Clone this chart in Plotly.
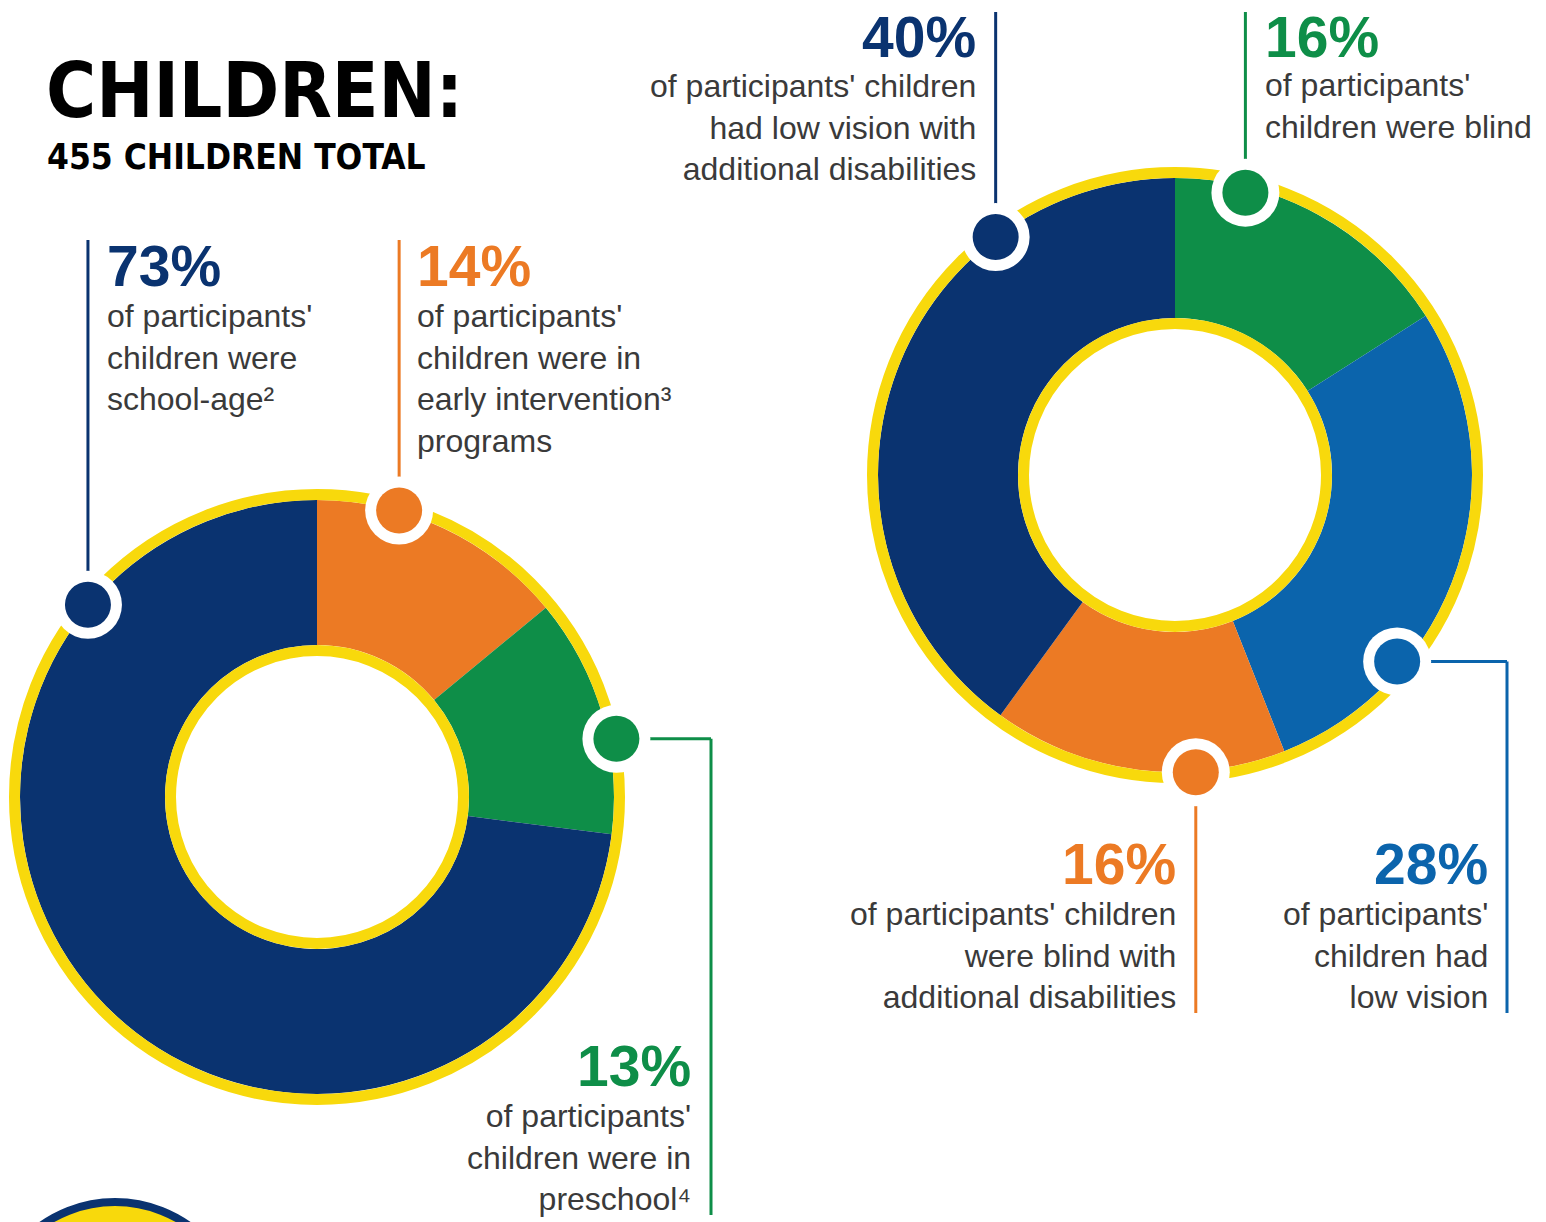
import math
import plotly.graph_objects as go

# ---------------- data ----------------
left_labels = ["Early intervention", "Preschool", "School-age"]
left_values = [14, 13, 73]
left_texts = [
    "of participants'<br>children were in<br>early intervention³<br>programs",
    "of participants'<br>children were in<br>preschool⁴",
    "of participants'<br>children were<br>school-age²",
]

right_labels = ["Blind", "Low vision", "Blind with additional disabilities",
                "Low vision with additional disabilities"]
right_values = [16, 28, 16, 40]
right_texts = [
    "of participants'<br>children were blind",
    "of participants'<br>children had<br>low vision",
    "of participants' children<br>were blind with<br>additional disabilities",
    "of participants' children<br>had low vision with<br>additional disabilities",
]

title_text = "CHILDREN:"
subtitle_text = "455 CHILDREN TOTAL"

# ---------------- style / layout config ----------------
W, H = 1546, 1222
NAVY = "#0A3370"
ORANGE = "#EC7A24"
GREEN = "#0E8E48"
BLUE = "#0B64AC"
YELLOW = "#F8D90C"
TEXT = "#3A3A3A"

left_colors = [ORANGE, GREEN, NAVY]
right_colors = [GREEN, BLUE, ORANGE, NAVY]

BODY_FONT = "Liberation Sans, Arial, Helvetica, sans-serif"
TITLE_FONT = "DejaVu Sans Condensed, sans-serif"

# donut geometry (pixels)
L_C, L_R, L_HOLE = (317, 797), 297, 152
R_C, R_R, R_HOLE = (1175, 475), 297, 157

left_callouts = [
    dict(ang=16, rad=298, path=[("v", 240)], px=415, py=266, by=378, anchor="left"),
    dict(ang=79, rad=305, path=[("h", 711), ("v", 1215)], px=693, py=1066, by=1157, anchor="right"),
    dict(ang=310, rad=299, path=[("v", 240)], px=105, py=266, by=357, anchor="left"),
]
right_callouts = [
    dict(ang=14, rad=291, path=[("v", 12)], px=1263, py=37, by=106, anchor="left"),
    dict(ang=130, rad=290, path=[("h", 1507), ("v", 1013)], px=1490, py=864, by=955, anchor="right"),
    dict(ang=176, rad=298, path=[("v", 1013)], px=1178, py=864, by=955, anchor="right"),
    dict(ang=323, rad=298, path=[("v", 12)], px=978, py=37, by=127, anchor="right"),
]

fig = go.Figure()


def domain_for(center, r):
    cx, cy = center
    return dict(x=[(cx - r) / W, (cx + r) / W],
                y=[(H - cy - r) / H, (H - cy + r) / H])


fig.add_trace(go.Pie(labels=left_labels, values=left_values, sort=False,
                     direction="clockwise", rotation=0, hole=L_HOLE / L_R,
                     marker=dict(colors=left_colors, line=dict(width=0)),
                     textinfo="none", hoverinfo="label+percent",
                     domain=domain_for(L_C, L_R), showlegend=False))
fig.add_trace(go.Pie(labels=right_labels, values=right_values, sort=False,
                     direction="clockwise", rotation=0, hole=R_HOLE / R_R,
                     marker=dict(colors=right_colors, line=dict(width=0)),
                     textinfo="none", hoverinfo="label+percent",
                     domain=domain_for(R_C, R_R), showlegend=False))

shapes = []
annotations = []


def circle(cx, cy, r, fill=None, line_color=None, lw=0):
    d = dict(type="circle", xref="x", yref="y", layer="above",
             x0=cx - r, x1=cx + r, y0=cy - r, y1=cy + r,
             line=dict(width=lw, color=line_color or "rgba(0,0,0,0)"))
    d["fillcolor"] = fill if fill else "rgba(0,0,0,0)"
    return d


def rings(center, R, hole):
    cx, cy = center
    shapes.append(circle(cx, cy, R + 5.5, line_color=YELLOW, lw=11))
    shapes.append(circle(cx, cy, hole - 5.5, line_color=YELLOW, lw=11))


def callouts(center, values, colors, texts, cfgs):
    cx, cy = center
    dots = []
    for v, col, txt, c in zip(values, colors, texts, cfgs):
        a = math.radians(c["ang"])
        dx = cx + c["rad"] * math.sin(a)
        dy = cy - c["rad"] * math.cos(a)
        x, y = dx, dy
        for kind, val in c["path"]:
            if kind == "v":
                shapes.append(dict(type="line", xref="x", yref="y", layer="above",
                                   x0=x, x1=x, y0=y, y1=val, line=dict(color=col, width=3)))
                y = val
            else:
                shapes.append(dict(type="line", xref="x", yref="y", layer="above",
                                   x0=x, x1=val, y0=y, y1=y, line=dict(color=col, width=3)))
                x = val
        dots.append((dx, dy, col))
        annotations.append(dict(x=c["px"], y=c["py"], xref="x", yref="y",
                                text=f"<b>{v}%</b>", showarrow=False,
                                xanchor=c["anchor"], yanchor="middle", align=c["anchor"],
                                font=dict(family=BODY_FONT, size=57, color=col)))
        annotations.append(dict(x=c["px"], y=c["by"], xref="x", yref="y",
                                text=txt, showarrow=False,
                                xanchor=c["anchor"], yanchor="middle", align=c["anchor"],
                                font=dict(family=BODY_FONT, size=32, color=TEXT)))
    for dx, dy, col in dots:
        shapes.append(circle(dx, dy, 34, fill="white"))
        shapes.append(circle(dx, dy, 23, fill=col))


rings(L_C, L_R, L_HOLE)
rings(R_C, R_R, R_HOLE)
callouts(L_C, left_values, left_colors, left_texts, left_callouts)
callouts(R_C, right_values, right_colors, right_texts, right_callouts)

# partial decorative circle bottom-left
shapes.append(circle(115, 1329, 127, fill=YELLOW, line_color=NAVY, lw=8))

annotations.append(dict(x=44, y=90, xref="x", yref="y", text=f"<b>{title_text}</b>",
                        showarrow=False, xanchor="left", yanchor="middle",
                        font=dict(family=TITLE_FONT, size=76, color="black")))
annotations.append(dict(x=45, y=157, xref="x", yref="y", text=f"<b>{subtitle_text}</b>",
                        showarrow=False, xanchor="left", yanchor="middle",
                        font=dict(family=TITLE_FONT, size=35, color="black")))

fig.update_layout(
    width=W, height=H, autosize=False,
    margin=dict(l=0, r=0, t=0, b=0),
    paper_bgcolor="white", plot_bgcolor="white",
    xaxis=dict(range=[0, W], visible=False, fixedrange=True),
    yaxis=dict(range=[H, 0], visible=False, fixedrange=True),
    shapes=shapes, annotations=annotations, showlegend=False,
)

fig.write_html("out.html")
